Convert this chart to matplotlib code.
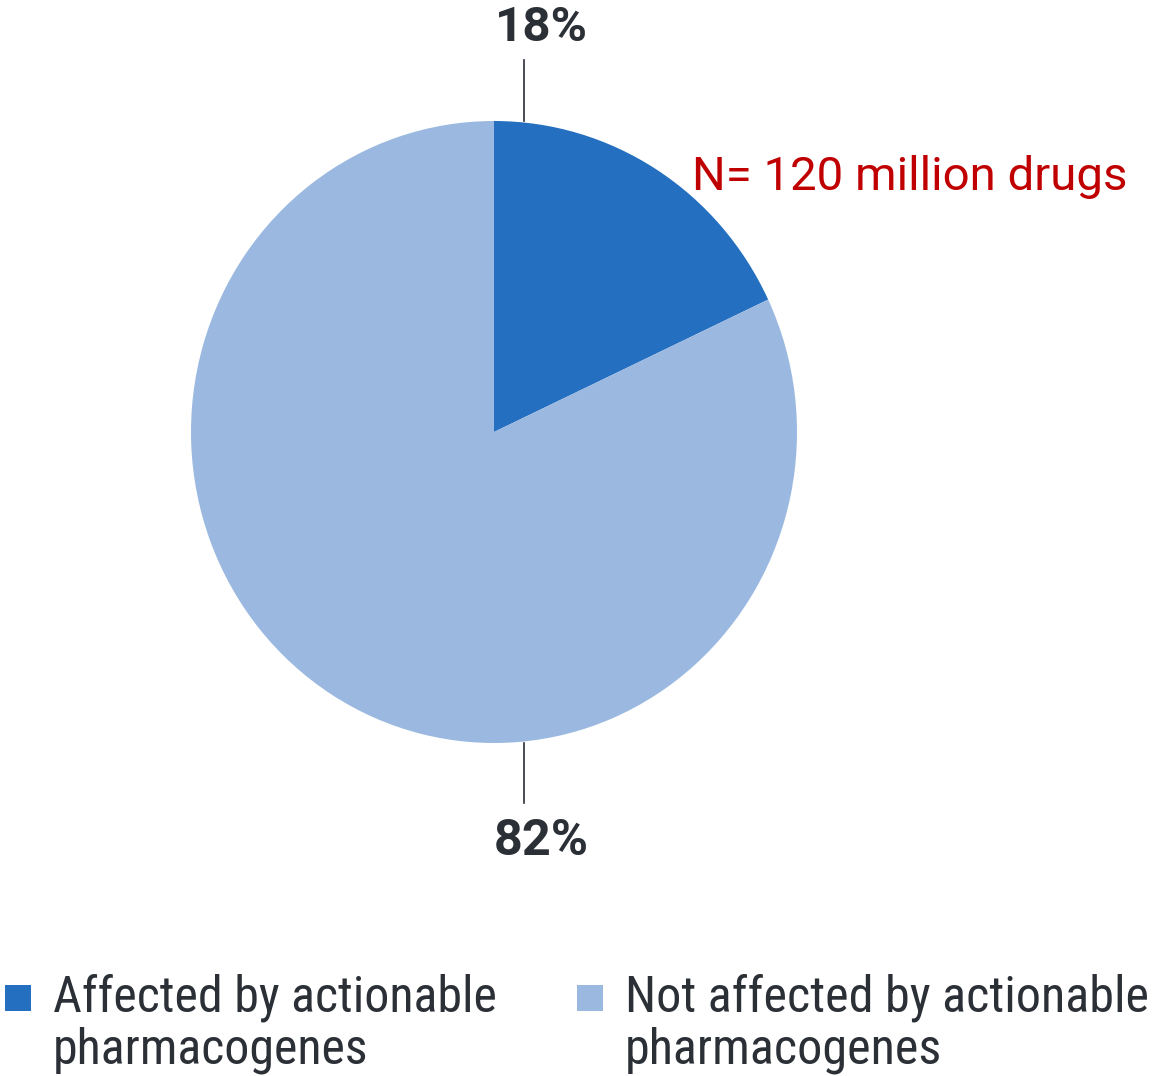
import matplotlib
matplotlib.use('Agg')
import matplotlib.pyplot as plt
from matplotlib import font_manager

# chart data
categories = ['Affected by actionable\npharmacogenes', 'Not affected by actionable\npharmacogenes']
shares = [18, 82]
colors = ['#246fc0', '#9bb9e0']
note = 'N= 120 million drugs'

W, H = 1155, 1076

names = {f.name for f in font_manager.fontManager.ttflist}
narrow = 'Roboto'
for cand in ['Liberation Sans Narrow', 'DejaVu Sans Condensed', 'Roboto Condensed',
             'Open Sans Condensed']:
    if cand in names:
        narrow = cand
        break
dark = '#2b2f36'


def fx(px):
    return px / W


def fy(py):
    return 1 - py / H


fig = plt.figure(figsize=(W / 100, H / 100), dpi=100)
renderer = fig.canvas.get_renderer()


def fit_text(x, y, s, width_px, **kw):
    # place text, then rescale its font so it spans width_px
    t = fig.text(fx(x), fy(y), s, **kw)
    w = t.get_window_extent(renderer).width
    t.set_fontsize(t.get_fontsize() * width_px / w)
    return t


# pie axes spans the pie box in pixels
left, right, top, bottom = 191, 797, 121, 743
ax = fig.add_axes([fx(left), fy(bottom), (right - left) / W, (bottom - top) / H])
ax.pie(shares, colors=colors, startangle=90, counterclock=False,
       wedgeprops=dict(linewidth=0))
ax.set_aspect('auto')
ax.set_xlim(-1, 1)
ax.set_ylim(-1, 1)
ax.axis('off')

# leader lines and percentage labels
rx = (right - left) / 2
ry = (bottom - top) / 2
lx = (524 - 494) / rx
ax.plot([lx, lx], [1.0, 1.0 + 61 / ry], color=dark, lw=1.2, clip_on=False)
ax.plot([lx, lx], [-1.0, -1.0 - 60 / ry], color=dark, lw=1.2, clip_on=False)

fit_text(541, 41, f'{shares[0]}%', 93, ha='center', va='baseline',
         fontsize=36, fontweight='bold', color=dark, family='Roboto')
fit_text(541, 855, f'{shares[1]}%', 95, ha='center', va='baseline',
         fontsize=36, fontweight='bold', color=dark, family='Roboto')

fit_text(692, 190, note, 436, ha='left', va='baseline',
         fontsize=34, color='#c00000', family='Roboto')

# legend
sq = 26
widths = [444, 524]
for i, (lab, c) in enumerate(zip(categories, colors)):
    sx = [5, 577][i]
    tx = [53, 625][i]
    fig.patches.append(plt.Rectangle((fx(sx), fy(1011)), sq / W, sq / H,
                                     transform=fig.transFigure, facecolor=c,
                                     edgecolor='none'))
    l1, l2 = lab.split('\n')
    t = fit_text(tx, 1012, l1, widths[i], ha='left', va='baseline', fontsize=34,
                 color=dark, family=narrow)
    fig.text(fx(tx), fy(1064), l2, ha='left', va='baseline',
             fontsize=t.get_fontsize(), color=dark, family=narrow)

fig.savefig('out.png', dpi=100, facecolor='white')
